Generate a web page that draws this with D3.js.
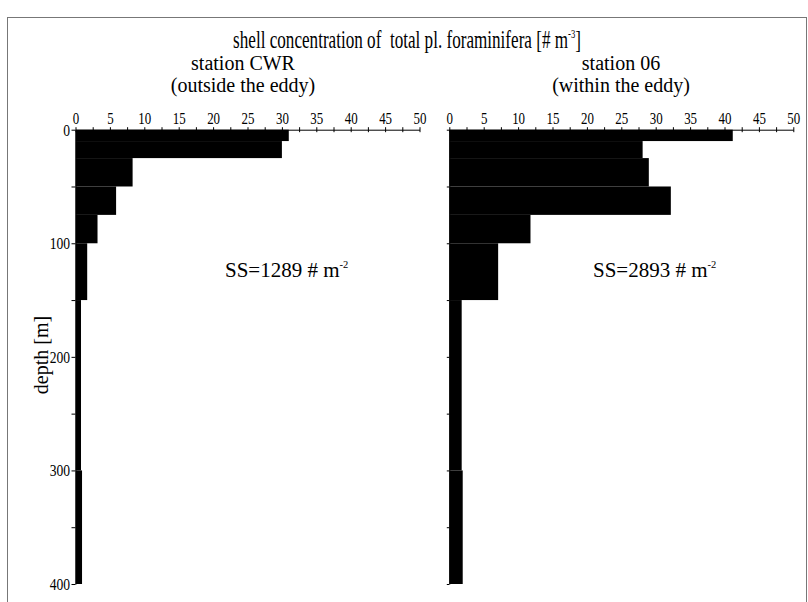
<!DOCTYPE html>
<html>
<head>
<meta charset="utf-8">
<script src="https://cdn.jsdelivr.net/npm/d3@7"></script>
<style>
  body { margin: 0; background: #fff; }
  svg { display: block; }
  svg text { font-family: "Liberation Serif", "Times New Roman", serif; }
  .lbl { white-space: pre; }
</style>
</head>
<body>
<div id="chart"></div>
<script>
// depth intervals (m) and shell concentrations (# m^-3)
const depthTop    = [0, 10, 25, 50, 75, 100, 150, 300];
const depthBottom = [10, 25, 50, 75, 100, 150, 300, 400];
const cwrValues   = [31.0, 30.0, 8.3, 5.9, 3.2, 1.7, 0.8, 0.95];
const st06Values  = [41.2, 28.1, 29.0, 32.2, 11.8, 7.1, 1.8, 1.95];

const xTicks = d3.range(0, 50.1, 2.5);
const depthTicks = d3.range(0, 400.1, 50);

const width = 808, height = 602;

const svg = d3.select("#chart").append("svg")
    .attr("width", width)
    .attr("height", height);

svg.append("rect")
    .attr("width", width).attr("height", height)
    .attr("fill", "#fff");

// frame
svg.append("rect")
    .attr("x", 7.5).attr("y", 17.5)
    .attr("width", 799).attr("height", 620)
    .attr("fill", "none")
    .attr("stroke", "#777")
    .attr("stroke-width", 1);

const y = d3.scaleLinear().domain([0, 400]).range([129.7, 584]);

// one panel per station
function drawPanel(values, x0, showDepthLabels) {
    const x = d3.scaleLinear().domain([0, 50]).range([x0, x0 + 344]);

    const g = svg.append("g");

    // bars
    g.selectAll("rect")
        .data(values.map((v, i) => ({ v: v, top: depthTop[i], bottom: depthBottom[i] })))
        .enter().append("rect")
        .attr("x", x(0))
        .attr("y", d => y(d.top))
        .attr("width", d => x(d.v) - x(0))
        .attr("height", d => y(d.bottom) - y(d.top))
        .attr("fill", "#000");

    // concentration axis on top
    const xAxis = g.append("g")
        .attr("transform", `translate(0,${y(0)})`)
        .call(d3.axisTop(x)
            .tickValues(xTicks)
            .tickFormat(d => d % 5 === 0 ? d : "")
            .tickSizeInner(2)
            .tickSizeOuter(0)
            .tickPadding(3.5));
    xAxis.attr("font-family", null);
    xAxis.selectAll(".tick line").attr("y1", -2.5).attr("y2", 2.5).attr("stroke", "#000");
    xAxis.select(".domain").attr("stroke", "#000");
    xAxis.selectAll("text")
        .attr("font-size", 17.5)
        .attr("fill", "#000")
        .attr("transform", "scale(0.74,1)");

    // depth axis
    const yAxis = g.append("g")
        .attr("transform", `translate(${x(0)},0)`)
        .call(d3.axisLeft(y)
            .tickValues(depthTicks)
            .tickFormat(d => showDepthLabels && d % 100 === 0 ? d : "")
            .tickSizeInner(showDepthLabels ? 4 : 2.5)
            .tickSizeOuter(0)
            .tickPadding(1.5));
    yAxis.attr("font-family", null);
    yAxis.selectAll(".tick line").attr("stroke", "#000");
    yAxis.select(".domain").attr("stroke", "#000");
    yAxis.selectAll("text")
        .attr("font-size", 17)
        .attr("fill", "#000")
        .attr("x", -5.5 / 0.8)
        .attr("transform", "scale(0.8,1)");

    return x;
}

drawPanel(cwrValues, 75.5, true);
drawPanel(st06Values, 449.3, false);

// helper for text with a superscript
function supText(xPos, yPos, size, anchor, main, sup, tail, sx) {
    const t = svg.append("text")
        .attr("class", "lbl")
        .attr("transform", `translate(${xPos},${yPos}) scale(${sx || 1},1)`)
        .attr("font-size", size)
        .attr("text-anchor", anchor)
        .attr("fill", "#000");
    t.append("tspan").text(main);
    t.append("tspan").attr("font-size", size * 0.5).attr("dy", -size * 0.42).text(sup);
    if (tail) t.append("tspan").attr("dy", size * 0.42).text(tail);
    return t;
}

supText(407, 48, 25, "middle", "shell concentration of  total pl. foraminifera [# m", "-3", "]", 0.685);

function label(xPos, yPos, size, txt) {
    svg.append("text")
        .attr("class", "lbl")
        .attr("x", xPos).attr("y", yPos)
        .attr("font-size", size)
        .attr("text-anchor", "middle")
        .attr("fill", "#000")
        .text(txt);
}

label(243, 70, 20, "station CWR");
label(243, 92, 20, "(outside the eddy)");
label(621, 70, 20, "station 06");
label(621, 92, 20, "(within the eddy)");

supText(225, 277, 21, "start", "SS=1289 # m", "-2");
supText(593, 277, 21, "start", "SS=2893 # m", "-2");

svg.append("text")
    .attr("transform", "translate(48,355) rotate(-90)")
    .attr("text-anchor", "middle")
    .attr("font-size", 20)
    .attr("fill", "#000")
    .text("depth [m]");
</script>
</body>
</html>
